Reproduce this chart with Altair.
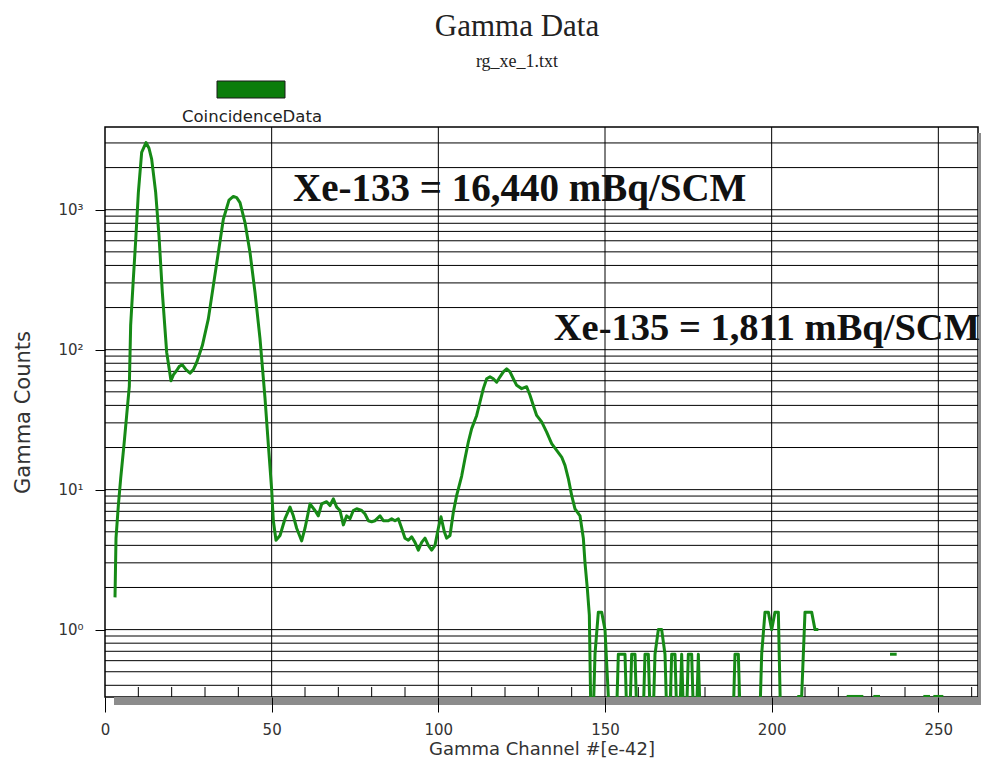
import altair as alt
import pandas as pd

# ---------------- data ----------------
channels = [3, 3.3, 4, 4.7, 5.7, 6.5, 7.3, 7.7, 8.5, 9.2, 10, 11, 12.3, 13.2, 14, 15.2, 16.2, 17.2,
            18.5, 19.8, 20.5, 21.5, 22.3, 23.2, 24.3, 25.5, 26.5, 27.5, 29.2, 31, 32.5, 34, 35.5,
            37.2, 38.5, 39.5, 40.5, 42, 43.5, 45, 46.5, 48, 49, 50, 50.5, 51.3, 52.5, 54, 55.5,
            56.5, 57.5, 59, 60, 61.5, 63, 64, 65, 66.5, 67.5, 68.5, 69.5, 70.5, 71.5, 72.5, 73.5,
            74.5, 75.5, 77, 78, 79, 80, 81, 82.5, 83.5, 85, 86, 87, 88, 89, 90, 91, 92, 93, 94, 95,
            96, 97, 98, 99, 100, 100.8, 101.8, 102.5, 103.5, 104.5, 105.5, 107, 108, 109, 110,
            111.5, 112.5, 113.5, 114.5, 115.5, 116.5, 117.5, 118.5, 119.5, 120.5, 121.5, 122.5,
            123.5, 125, 126.5, 127.5, 128.5, 129.5, 131, 132.5, 134, 135.5, 137, 138, 139, 140,
            141, 142.5, 143.5, 144, 144.7, 145.3, 146, 147, 148, 149, 150, 151, 152, 153, 154,
            155, 156, 157, 158, 159, 160, 161, 162, 163, 164, 165, 166, 167, 168, 169, 170, 171,
            172, 173, 174, 175, 176, 177, 178, 179, 188, 189, 190, 191, 196, 197, 198, 199, 200,
            201, 202, 203, 207, 208, 209, 210, 211, 212, 213, 214,
            215, 222.5, 227.5, 228, 230.5, 232.5, 233, 235.5, 237.5, 238, 245.5, 247.5, 248,
            248.5, 251.5]
counts = [1.7, 4.5, 7.7, 12, 21, 34, 55, 150, 320, 600, 1320, 2570, 3020, 2750, 2300, 1330, 650, 257,
          96, 60, 66, 71, 76, 78, 72, 68, 72, 81, 107, 166, 287, 495, 855,
          1170, 1245, 1220, 1125, 810, 495, 257, 120, 45, 21, 10, 6, 4.35, 4.7, 6.2, 7.5,
          6.5, 5.3, 4.3, 5.3, 7.9, 7.1, 6.5, 7.9, 8.2, 7.7, 8.6, 7.5, 7.1, 5.6, 6.5, 6.2,
          7.1, 7.3, 7.1, 6.7, 6.0, 5.9, 6.0, 6.5, 6.0, 6.0, 6.2, 6.0, 6.2, 5.3, 4.5, 4.35, 4.6, 4.2, 3.7, 4.2,
          4.5, 4.0, 3.7, 4.0, 5.3, 6.4, 5.0, 4.5, 4.7, 6.9, 9.1, 12.5, 16.7, 21.9, 27.3,
          33.9, 42.3, 52.7, 62, 64, 62, 58.6, 64, 69.5, 73, 69.5, 62,
          55.6, 52.7, 54.4, 47.2, 39.9, 33.9, 30.5, 25.8, 21.3, 19.1, 17.1, 14.9, 12, 9.1,
          7.3, 6.5, 4.5, 3.0, 1.96, 1.27, 0, 0.667, 1.333, 1.333, 1.0, 0.333, 0, 0, 0.667,
          0.667, 0.667, 0, 0.667, 0.667, 0, 0, 0.667, 0.667, 0, 0.667, 1.0, 1.0, 0.667, 0, 0.667, 0.667,
          0, 0.667, 0, 0.667, 0.667, 0, 0.667, 0, 0, 0.667, 0.667, 0, 0, 0.667, 1.333, 1.333, 1.0,
          1.333, 1.333, 0, 0, 0.333, 0.333, 1.333, 1.333, 1.333, 1.0, 1.0,
          None, 0.333, 0.333, None, 0.333, 0.333, None, 0.667, 0.667, None, 0.333, 0.333, None,
          0.333, 0.333]

x_ticks = [0, 50, 100, 150, 200, 250]
x_grid = [50, 100, 150, 200, 250]
x_minor = [10, 20, 30, 40, 60, 70, 80, 90, 110, 120, 130, 140, 160, 170, 180, 190,
           210, 220, 230, 240, 260]
y_ticks = [1, 10, 100, 1000]
y_grid = [0.4, 0.5, 0.6, 0.7, 0.8, 0.9, 1, 2, 3, 4, 5, 6, 7, 8, 9, 10, 20, 30, 40, 50, 60, 70,
          80, 90, 100, 200, 300, 400, 500, 600, 700, 800, 900, 1000, 2000, 3000]

title_text = "Gamma Data"
subtitle_text = "rg_xe_1.txt"
legend_text = "CoincidenceData"
note_133 = "Xe-133 = 16,440 mBq/SCM"
note_135 = "Xe-135 = 1,811 mBq/SCM"

# ---------------- chart ----------------
W, H = 873, 570
GREEN = "#168a16"
SANS = "DejaVu Sans"
SERIF = "Liberation Serif"

df = pd.DataFrame({"channel": channels, "counts": counts})
df["seg"] = df["counts"].isna().cumsum()
df = df.dropna()

xs = alt.Scale(domain=[0, 261.9], nice=False, zero=False)
ys = alt.Scale(type="log", domain=[0.33, 3900], nice=False)

x_axis = alt.Axis(
    values=x_ticks, grid=False, domain=False, tickSize=15, tickColor="black",
    labelFont=SANS, labelFontSize=15, labelColor="#333333", labelPadding=10,
    labelFlush=False,
    title="Gamma Channel #[e-42]", titleFont=SANS, titleFontSize=18,
    titleFontWeight="normal", titleColor="#333333", titleY=43, titleBaseline="top",
    zindex=1)
y_axis = alt.Axis(
    values=y_ticks, grid=False, domain=False, tickSize=10, tickColor="black",
    labelFont=SANS, labelFontSize=15, labelColor="#333333", labelPadding=12,
    labelFlush=False,
    labelExpr="datum.value == 1000 ? '10³' : datum.value == 100 ? '10²' : datum.value == 10 ? '10¹' : datum.value == 1 ? '10⁰' : ''",
    title="Gamma Counts", titleFont=SANS, titleFontSize=21, titleFontWeight="normal",
    titleColor="#333333", titleX=-82, titleY=H / 2, titleAlign="center",
    titleBaseline="middle", zindex=1)

hgrid = alt.Chart(pd.DataFrame({"g": y_grid})).mark_rule(color="black", strokeWidth=1).encode(
    y=alt.Y("g:Q", scale=ys, axis=y_axis)
)
vgrid = alt.Chart(pd.DataFrame({"g": x_grid})).mark_rule(color="black", strokeWidth=1).encode(
    x=alt.X("g:Q", scale=xs, axis=x_axis)
)
minor = alt.Chart(pd.DataFrame({"m": x_minor})).mark_rule(color="black", strokeWidth=1).encode(
    x=alt.X("m:Q", scale=xs, axis=x_axis), y=alt.value(H), y2=alt.value(H - 10)
)

shadow_right = alt.Chart(pd.DataFrame({"k": [1]})).mark_rect(color="#8c8c8c").encode(
    x=alt.value(W), x2=alt.value(W + 3), y=alt.value(6), y2=alt.value(H + 8)
)
shadow_bottom = alt.Chart(pd.DataFrame({"k": [1]})).mark_rect(color="#8c8c8c").encode(
    x=alt.value(9), x2=alt.value(W + 3), y=alt.value(H), y2=alt.value(H + 8)
)

line = alt.Chart(df).transform_calculate(
    shown="max(datum.counts, 0.1)"
).mark_line(color=GREEN, strokeWidth=3, clip=True, strokeJoin="round").encode(
    x=alt.X("channel:Q", scale=xs, axis=x_axis),
    y=alt.Y("shown:Q", scale=ys, axis=y_axis),
    detail="seg:N",
)

ann133 = alt.Chart(pd.DataFrame({"t": [note_133]})).mark_text(
    font=SERIF, fontSize=39, fontWeight="bold", align="left", baseline="alphabetic", color="#111111"
).encode(x=alt.datum(56.4), y=alt.datum(1155), text="t:N")
ann135 = alt.Chart(pd.DataFrame({"t": [note_135]})).mark_text(
    font=SERIF, fontSize=38.5, fontWeight="bold", align="right", baseline="alphabetic", color="#111111"
).encode(x=alt.datum(262.5), y=alt.datum(117), text="t:N")

title = alt.Chart(pd.DataFrame({"t": [title_text]})).mark_text(
    font=SERIF, fontSize=31, align="center", baseline="alphabetic", color="#222222"
).encode(x=alt.value(412), y=alt.value(-91), text="t:N")
subtitle = alt.Chart(pd.DataFrame({"t": [subtitle_text]})).mark_text(
    font=SERIF, fontSize=18, align="center", baseline="alphabetic", color="#222222"
).encode(x=alt.value(412), y=alt.value(-60.5), text="t:N")

legend_box = alt.Chart(pd.DataFrame({"k": [1]})).mark_rect(
    color="#0b7d0b", stroke="#1a1a1a", strokeWidth=1
).encode(x=alt.value(112), x2=alt.value(180), y=alt.value(-46), y2=alt.value(-29))
legend_label = alt.Chart(pd.DataFrame({"t": [legend_text]})).mark_text(
    font=SANS, fontSize=16.5, align="center", baseline="alphabetic", color="#222222"
).encode(x=alt.value(147), y=alt.value(-5.5), text="t:N")

chart = alt.layer(
    shadow_right, shadow_bottom, hgrid, vgrid, minor, line, ann133, ann135,
    title, subtitle, legend_box, legend_label
).properties(
    width=W, height=H,
    autosize=alt.AutoSizeParams(type="none"),
    padding={"left": 97, "top": 119, "right": 3, "bottom": 62},
    background="white",
).configure_view(stroke="black", strokeWidth=1.5)

chart.save("out.html", embed_options={"renderer": "svg", "actions": False})
